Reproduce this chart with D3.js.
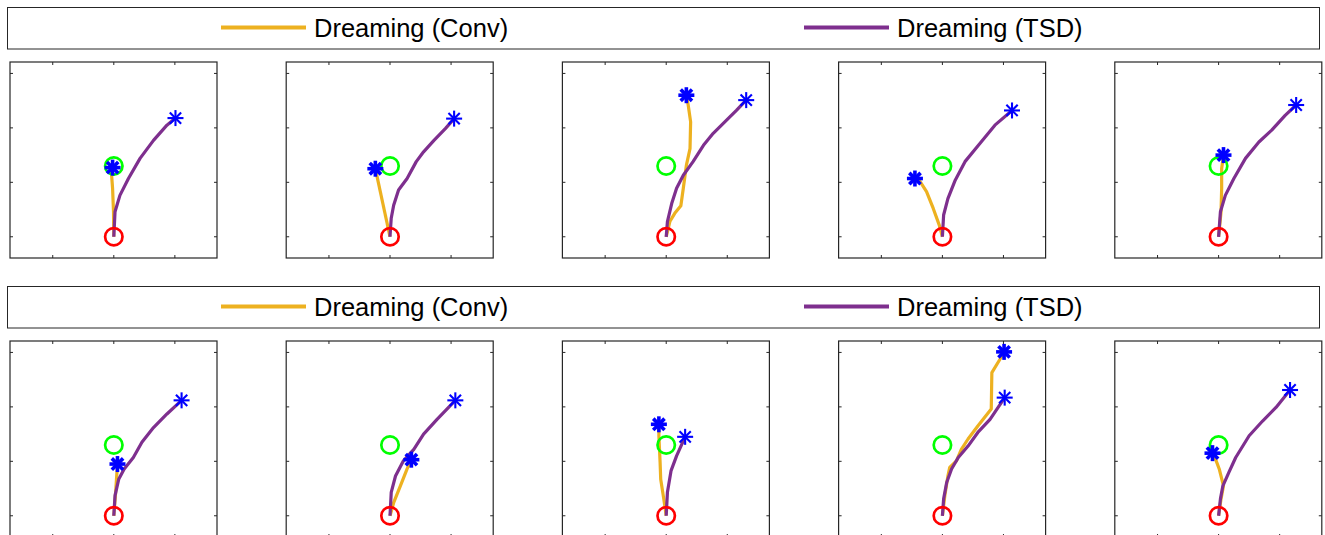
<!DOCTYPE html>
<html>
<head>
<meta charset="utf-8">
<script src="https://cdn.jsdelivr.net/npm/d3@7"></script>
<style>
  html, body { margin: 0; padding: 0; background: #fff; }
  svg { display: block; }
</style>
</head>
<body>
<svg id="chart" width="1325" height="535"></svg>
<script>
// ---- data (axis units) ----
const seriesNames = ["Dreaming (Conv)", "Dreaming (TSD)"];
const xTicks = [-1, 0, 1];
const yTicks = [0, 1, 2, 3];
const startPoint = [0, 0];
const goalPoint = [0, 1.30];

// Row 1
const conv1 = [[0,0],[-0.005,0.46],[-0.02,0.89],[-0.04,1.19],[-0.02,1.27]];
const tsd1  = [[0,0],[0.02,0.46],[0.10,0.76],[0.24,1.07],[0.43,1.44],[0.65,1.77],[0.87,2.05],[1.01,2.18]];
const conv2 = [[0,0],[-0.24,1.25]];
const tsd2  = [[0,0],[0.02,0.34],[0.06,0.58],[0.14,0.86],[0.28,1.07],[0.43,1.38],[0.55,1.56],[0.72,1.77],[0.91,1.99],[1.05,2.17]];
const conv3 = [[0,0],[0.06,0.28],[0.14,0.43],[0.24,0.57],[0.28,0.89],[0.33,1.31],[0.39,1.62],[0.40,2.11],[0.36,2.42],[0.33,2.60]];
const tsd3  = [[0,0],[0.02,0.28],[0.09,0.61],[0.17,0.89],[0.28,1.13],[0.44,1.38],[0.61,1.68],[0.77,1.90],[0.96,2.11],[1.15,2.32],[1.31,2.51]];
const conv4 = [[0,0],[-0.05,0.21],[-0.15,0.52],[-0.26,0.83],[-0.37,1.02],[-0.45,1.07]];
const tsd4  = [[0,0],[0.02,0.40],[0.09,0.70],[0.21,1.04],[0.37,1.38],[0.59,1.68],[0.86,2.05],[1.14,2.32]];
const conv5 = [[0,0],[0.04,0.46],[0.05,0.89],[0.05,1.25],[0.08,1.50]];
const tsd5  = [[0,0],[0.03,0.46],[0.11,0.76],[0.25,1.07],[0.44,1.44],[0.66,1.74],[0.87,1.96],[1.09,2.23],[1.27,2.42]];
// Row 2
const conv6 = [[0,0],[0.03,0.43],[0.06,0.95]];
const tsd6  = [[0,0],[0.02,0.37],[0.08,0.67],[0.17,0.86],[0.32,1.07],[0.46,1.35],[0.65,1.62],[0.87,1.87],[1.11,2.12]];
const conv7 = [[0,0],[0.06,0.24],[0.17,0.55],[0.28,0.86],[0.35,1.03]];
const tsd7  = [[0,0],[0.02,0.43],[0.09,0.73],[0.22,1.01],[0.39,1.22],[0.55,1.50],[0.77,1.77],[1.07,2.12]];
const conv8 = [[0,0],[-0.04,0.31],[-0.09,0.67],[-0.10,0.98],[-0.12,1.47],[-0.12,1.68]];
const tsd8  = [[0,0],[0.02,0.43],[0.08,0.83],[0.17,1.10],[0.31,1.45]];
const conv9 = [[0,0],[0.04,0.37],[0.09,0.73],[0.12,0.89],[0.23,1.01],[0.31,1.22],[0.42,1.41],[0.58,1.65],[0.80,1.96],[0.81,2.63],[0.94,2.87],[1.01,3.01]];
const tsd9  = [[0,0],[0.02,0.31],[0.07,0.61],[0.15,0.86],[0.26,1.07],[0.42,1.28],[0.58,1.53],[0.78,1.77],[1.02,2.17]];
const conv10 = [[0,0],[0.04,0.31],[0.08,0.55],[0.01,0.86],[-0.07,1.10],[-0.10,1.15]];
const tsd10  = [[0,0],[0.03,0.31],[0.07,0.55],[0.17,0.80],[0.28,1.07],[0.50,1.47],[0.72,1.74],[0.94,1.99],[1.17,2.31]];

const convRows = [[conv1, conv2, conv3, conv4, conv5], [conv6, conv7, conv8, conv9, conv10]];
const tsdRows  = [[tsd1, tsd2, tsd3, tsd4, tsd5], [tsd6, tsd7, tsd8, tsd9, tsd10]];

// ---- styling / layout ----
const colConv = "#EDB120", colTSD = "#7E2F8E", colMark = "#0000FF";
const colStart = "#FF0000", colGoal = "#00FF00", colAxis = "#262626";
const panelW = 207, panelH = 196;
const panelLeft0 = 10, panelStep = 276.2;
const rowTop = [62, 341];
const legendTop = [7.5, 286.5];

const svg = d3.select("#chart");
const x = d3.scaleLinear().domain([-1.70, 1.69]).range([0, panelW]);
const y = d3.scaleLinear().domain([-0.39, 3.21]).range([panelH, 0]);
const line = d3.line().x(d => x(d[0])).y(d => y(d[1]));

function asterisk(g, cx, cy, r, sw) {
  const a = r * Math.SQRT1_2;
  const segs = [[-r,0,r,0],[0,-r,0,r],[-a,-a,a,a],[-a,a,a,-a]];
  const ag = g.append("g").attr("transform", `translate(${cx},${cy})`);
  segs.forEach(s => ag.append("line")
    .attr("x1", s[0]).attr("y1", s[1]).attr("x2", s[2]).attr("y2", s[3])
    .attr("stroke", colMark).attr("stroke-width", sw));
}

rowTop.forEach((top, ri) => {
  // legend
  const lg = svg.append("g").attr("transform", `translate(0,${legendTop[ri]})`);
  lg.append("rect").attr("x", 7.5).attr("y", 0).attr("width", 1312).attr("height", 41.5)
    .attr("fill", "#fff").attr("stroke", colAxis).attr("stroke-width", 1);
  const items = [{c: colConv, x0: 221, name: seriesNames[0]}, {c: colTSD, x0: 804, name: seriesNames[1]}];
  items.forEach(it => {
    lg.append("line").attr("x1", it.x0).attr("x2", it.x0 + 85).attr("y1", 20).attr("y2", 20)
      .attr("stroke", it.c).attr("stroke-width", 4);
    lg.append("text").attr("x", it.x0 + 93).attr("y", 29.5)
      .attr("font-family", "Liberation Sans, Arial, sans-serif").attr("font-size", 25.5)
      .attr("fill", "#000").text(it.name);
  });

  for (let i = 0; i < 5; i++) {
    const g = svg.append("g").attr("transform", `translate(${panelLeft0 + i * panelStep},${top})`);
    g.append("rect").attr("width", panelW).attr("height", panelH).attr("fill", "#fff");
    // ticks on all four sides, inward
    const tl = 3;
    xTicks.forEach(t => {
      g.append("line").attr("x1", x(t)).attr("x2", x(t)).attr("y1", panelH).attr("y2", panelH - tl).attr("stroke", colAxis);
      g.append("line").attr("x1", x(t)).attr("x2", x(t)).attr("y1", 0).attr("y2", tl).attr("stroke", colAxis);
    });
    yTicks.forEach(t => {
      g.append("line").attr("y1", y(t)).attr("y2", y(t)).attr("x1", 0).attr("x2", tl).attr("stroke", colAxis);
      g.append("line").attr("y1", y(t)).attr("y2", y(t)).attr("x1", panelW).attr("x2", panelW - tl).attr("stroke", colAxis);
    });

    const conv = convRows[ri][i], tsd = tsdRows[ri][i];
    g.append("path").attr("d", line(conv)).attr("fill", "none").attr("stroke", colConv)
      .attr("stroke-width", 3.2).attr("stroke-linejoin", "round");
    g.append("path").attr("d", line(tsd)).attr("fill", "none").attr("stroke", colTSD)
      .attr("stroke-width", 3.2).attr("stroke-linejoin", "round");

    g.append("circle").attr("cx", x(startPoint[0])).attr("cy", y(startPoint[1])).attr("r", 8.7)
      .attr("fill", "none").attr("stroke", colStart).attr("stroke-width", 2.7);
    g.append("circle").attr("cx", x(goalPoint[0])).attr("cy", y(goalPoint[1])).attr("r", 8.7)
      .attr("fill", "none").attr("stroke", colGoal).attr("stroke-width", 2.7);

    const ce = conv[conv.length - 1], te = tsd[tsd.length - 1];
    asterisk(g, x(te[0]), y(te[1]), 8, 2.1);
    asterisk(g, x(ce[0]), y(ce[1]), 8, 3.6);

    g.append("rect").attr("width", panelW).attr("height", panelH).attr("fill", "none")
      .attr("stroke", colAxis).attr("stroke-width", 1.2);
  }
});
</script>
</body>
</html>
